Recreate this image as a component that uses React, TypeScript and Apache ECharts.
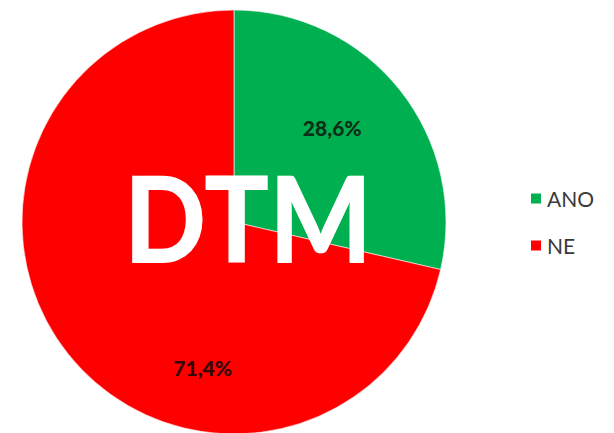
import React, { useEffect, useRef } from "react";
import * as echarts from "echarts";

const categories = ["ANO", "NE"];
const values = [28.6, 71.4];
const labelsText = ["28,6%", "71,4%"];
const centerText = "DTM";

export default function App() {
  const ref = useRef<HTMLDivElement>(null);
  useEffect(() => {
    if (!ref.current) return;
    const chart = echarts.init(ref.current, null, { renderer: "svg" });
    const colors = ["#00b050", "#ff0000"];
    const labelColors = ["#0e2e17", "#330808"];
    const nudges = [
      [13, -27],
      [54, 78],
    ];
    chart.setOption({
      animation: false,
      backgroundColor: "#ffffff",
      legend: {
        orient: "vertical",
        left: 524,
        top: 183,
        itemWidth: 12,
        itemHeight: 12,
        itemGap: 26,
        icon: "rect",
        data: categories,
        textStyle: {
          fontFamily: "Lato",
          fontSize: 21,
          color: "#3a3a3a",
          padding: [0, 0, 0, 0],
        },
      },
      series: [
        {
          type: "pie",
          center: [234, 222],
          radius: [0, 212],
          startAngle: 90,
          clockwise: true,
          silent: true,
          itemStyle: { borderColor: "#ffffff", borderWidth: 0.6 },
          label: {
            show: true,
            position: "inside",
            fontFamily: "Lato",
            fontWeight: 900,
            fontSize: 21,
            formatter: (p: any) => labelsText[p.dataIndex],
          },
          labelLine: { show: false },
          labelLayout: (p: any) => ({
            dx: nudges[p.dataIndex][0],
            dy: nudges[p.dataIndex][1],
          }),
          data: categories.map((c, i) => ({
            name: c,
            value: values[i],
            itemStyle: { color: colors[i] },
            label: { color: labelColors[i] },
          })),
        },
      ],
      graphic: [
        {
          type: "text",
          x: 248,
          y: 216,
          z: 100,
          scaleX: 0.9,
          silent: true,
          style: {
            text: centerText,
            fill: "#ffffff",
            fontFamily: "Lato",
            fontWeight: 900,
            fontSize: 120,
            align: "center",
            verticalAlign: "middle",
          },
        },
      ],
    });
    return () => chart.dispose();
  }, []);
  return (
    <div
      ref={ref}
      style={{ position: "fixed", left: 0, top: 0, width: 614, height: 433 }}
    />
  );
}
